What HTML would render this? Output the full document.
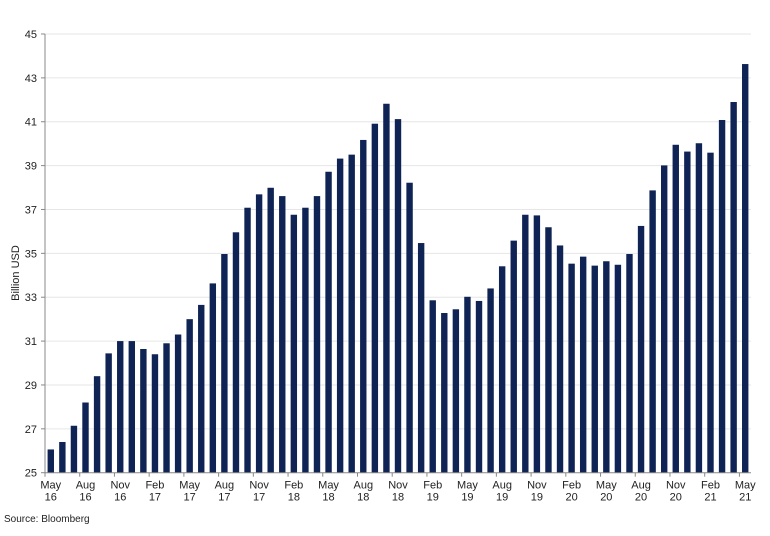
<!DOCTYPE html>
<html><head><meta charset="utf-8"><style>
body{margin:0;background:#fff;}
svg text{font-family:"Liberation Sans",Arial,sans-serif;fill:#222;}
</style></head><body>
<svg id="chart" width="770" height="531" viewBox="0 0 770 531" xmlns="http://www.w3.org/2000/svg">
<g id="grid"></g>
<g id="bars"></g>
<g id="axes"></g>
<text transform="translate(19,273) rotate(-90)" text-anchor="middle" font-size="11">Billion USD</text>
<text x="4" y="522" font-size="10">Source: Bloomberg</text>
</svg>
<script>
const months = ["May","Jun","Jul","Aug","Sep","Oct","Nov","Dec","Jan","Feb","Mar","Apr"];
const values = [26.06,26.4,27.14,28.2,29.4,30.44,31.0,31.0,30.64,30.4,30.9,31.3,32.0,32.65,33.63,34.97,35.96,37.08,37.69,37.99,37.61,36.76,37.08,37.61,38.72,39.32,39.5,40.17,40.91,41.82,41.12,38.22,35.47,32.86,32.28,32.45,33.02,32.83,33.4,34.41,35.58,36.76,36.73,36.19,35.36,34.53,34.85,34.44,34.64,34.48,34.97,36.25,37.87,39.01,39.95,39.64,40.02,39.59,41.08,41.9,43.63];
const yTicks = [25,27,29,31,33,35,37,39,41,43,45];
const startYear = 16;
const NS = "http://www.w3.org/2000/svg";
const x0 = 45, x1 = 751, yTop = 34, yBot = 472.7, yMin = 25, yMax = 45;
const slot = (x1 - x0) / values.length;
function yScale(v){ return yBot - (v - yMin) / (yMax - yMin) * (yBot - yTop); }
function xCenter(i){ return x0 + slot * (i + 0.5); }
function mk(tag, attrs, parent){ const e = document.createElementNS(NS, tag); for (const k in attrs) e.setAttribute(k, attrs[k]); parent.appendChild(e); return e; }
const grid = document.getElementById('grid'), bars = document.getElementById('bars'), axes = document.getElementById('axes');
yTicks.forEach(t => {
  const y = yScale(t);
  if (t !== yMin) {
    const g = mk('line', {x1:x0, x2:x1, y1:y, y2:y, stroke:'#e6e6e6', 'stroke-width':1}, grid);
    
    
  }
  const tk = mk('line', {x1:x0-4, x2:x0, y1:y, y2:y, stroke:'#888'}, axes);
  
  
  const lb = mk('text', {x:x0-8, y:y+4, 'text-anchor':'end', 'font-size':11}, axes);
  lb.textContent = t;
  
  
});
values.forEach((v, i) => {
  const y = yScale(v);
  const r = mk('rect', {x:xCenter(i)-3.2, y:y, width:6.4, height:yBot-y, fill:'#0f2454'}, bars);
  
  
  if (i % 3 === 0) {
    const tx = x0 + slot * i;
    const tk = mk('line', {x1:tx, x2:tx, y1:yBot, y2:yBot+4, stroke:'#888'}, axes);
    
    
    const yr = startYear + Math.floor((i + 4) / 12);
    const t = mk('text', {x:xCenter(i), y:yBot+16, 'text-anchor':'middle', 'font-size':11}, axes);
    
    
    const a = mk('tspan', {x:xCenter(i)}, t); a.textContent = months[i % 12];
    const b = mk('tspan', {x:xCenter(i), dy:12}, t); b.textContent = yr;
  }
});
const ya = mk('line', {x1:x0, x2:x0, y1:yTop, y2:yBot, stroke:'#888'}, axes);


const xa = mk('line', {x1:x0, x2:x1, y1:yBot, y2:yBot, stroke:'#888'}, axes);


</script>
</body></html>
